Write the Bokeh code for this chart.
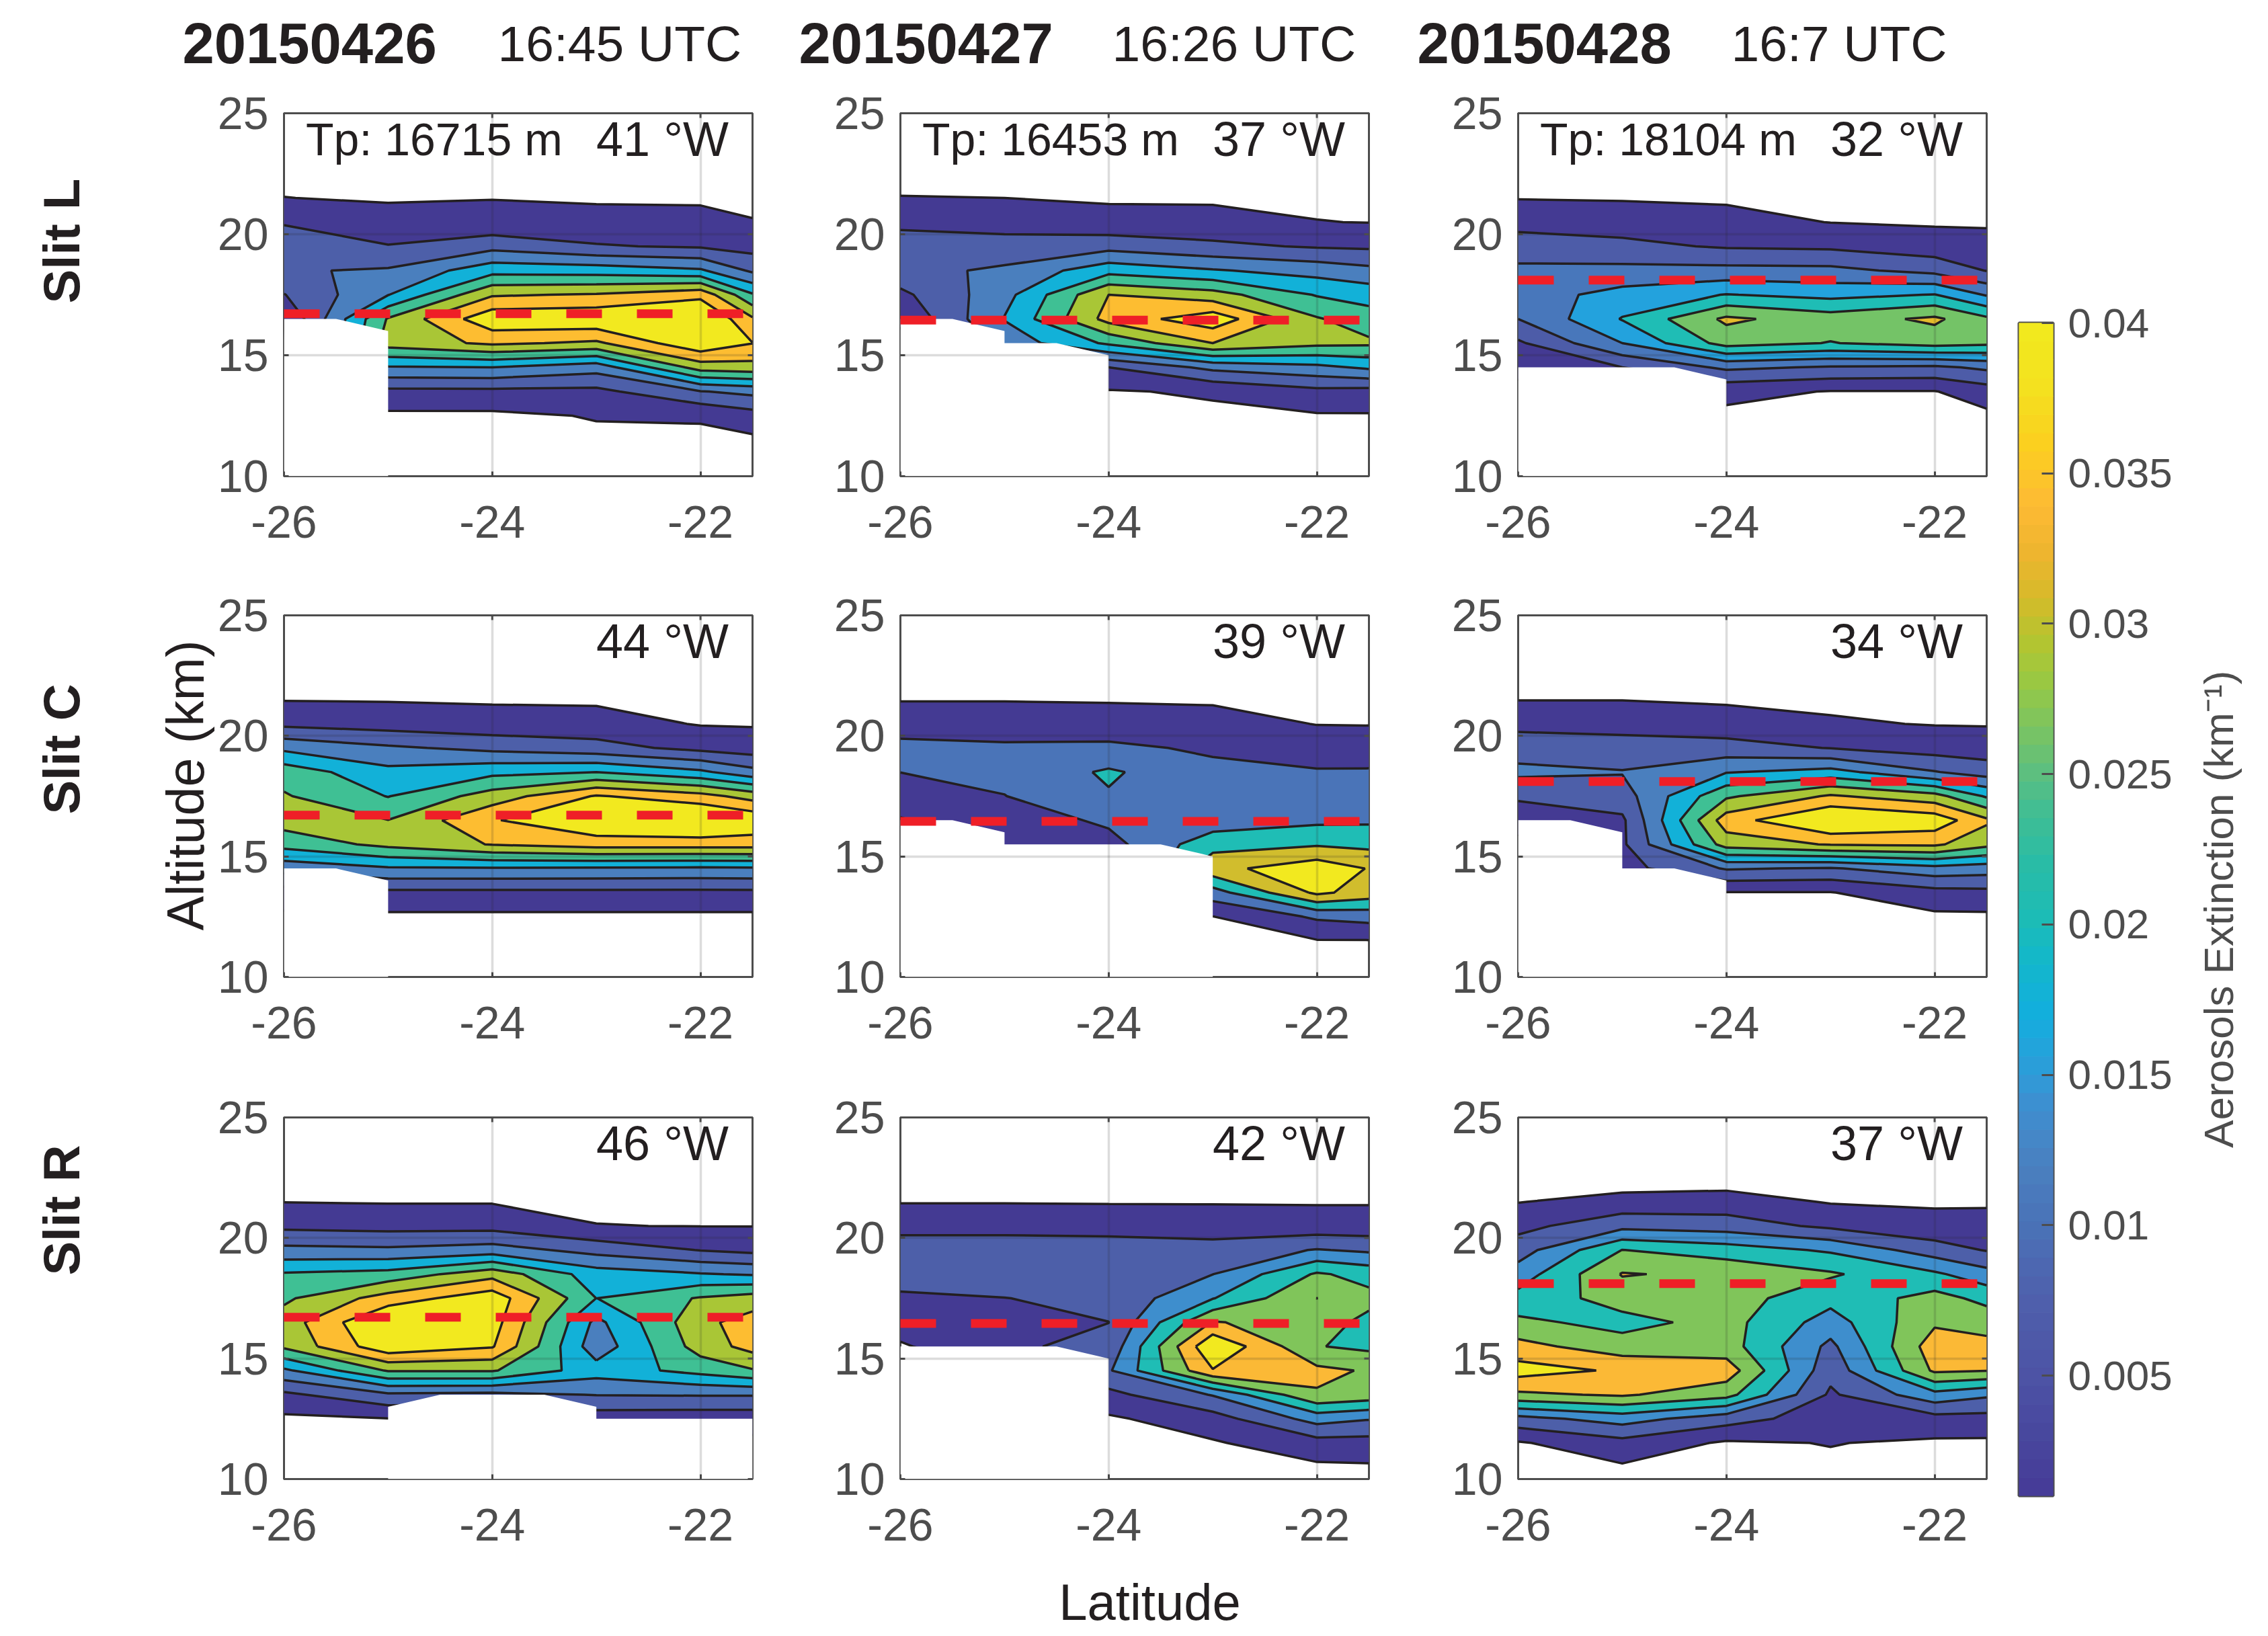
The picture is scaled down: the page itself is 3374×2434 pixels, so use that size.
import math
import numpy as np
from bokeh.core.properties import value
from bokeh.embed import file_html
from bokeh.layouts import column, row
from bokeh.models import FixedTicker, Range1d
from bokeh.plotting import figure
from bokeh.resources import INLINE

# ---- grid ---------------------------------------------------------------
LATS = [-26, -25, -24, -23, -22, -21.5]
ALTS = [22.5, 21.5, 20.5, 19.5, 18.5, 17.5, 16.5, 15.5, 14.5, 13.5, 12.5, 11.5, 10.5]

# ---- extinction (1e-3 km^-1), one list per latitude, one value per altitude
Z_L1 = [[0, 1.05, 6, 10, 11.5, 6.3, 1, .5, 0, 0, 0, 0, 0],
        [0, .6, 2.6, 6.8, 12.6, 17.3, 29, 31, 17, 5, 0, 0, 0],
        [0, .9, 2.2, 10.2, 21, 33.4, 43.5, 35, 17.5, 5.1, 0, 0, 0],
        [0, .3, 3, 6.9, 20.5, 34.5, 44, 33, 14.3, 5, 1.3, 0, 0],
        [0, .2, 2.8, 5.9, 18.3, 38, 46, 44, 31, 11.7, 1.5, 0, 0],
        [0, 0, 1.2, 4.5, 11, 23.6, 34.8, 39.6, 32, 13.5, 4.2, 0, 0]]
Z_L2 = [[0, 1.1, 5.3, 9, 10.2, 5.2, 1.5, 0, 0, 0, 0, 0, 0],
        [0, 1, 4.5, 8.5, 13, 15.5, 17.8, 14, 6, 2, 0, 0, 0],
        [0, .5, 2.5, 10, 21, 34, 36, 24, 6.5, .6, 0, 0, 0],
        [0, .2, 3, 7.6, 18, 30.8, 43, 34, 13.5, 1.6, 0, 0, 0],
        [0, .2, 1.1, 6, 15.4, 22.6, 29, 30, 16, 5, .5, 0, 0],
        [0, 0, .9, 5.6, 13.5, 20.8, 25.5, 29.5, 18.5, 4.5, .6, 0, 0]]
Z_L3 = [[0, .8, 4.2, 8.6, 12, 13.5, 11, 5.2, 2, 0, 0, 0, 0],
        [0, .6, 3.8, 7.2, 12.4, 17.8, 21.3, 16, 6, 2, 0, 0, 0],
        [0, .4, 2.5, 5.5, 12.5, 21.2, 32, 28, 12, 2.3, 0, 0, 0],
        [0, .2, .9, 5.1, 12.3, 19.5, 28.5, 25.8, 10.5, .8, 0, 0, 0],
        [0, .2, .5, 3.2, 9.5, 21.2, 32, 28, 10, .8, 0, 0, 0],
        [0, 0, .5, 2.5, 5.8, 15.5, 27, 27, 12, 3.5, 0, 0, 0]]
Z_C1 = [[0, .8, 5.2, 16.2, 26.3, 29, 31, 25, 14, 4, 0, 0, 0],
        [0, .7, 4, 12.9, 19, 22.8, 28.6, 30, 16.8, 5.2, 0, 0, 0],
        [0, .5, 3, 10.5, 21.5, 31, 39, 34.3, 17, 5.2, 0, 0, 0],
        [0, .3, 3, 8.5, 23, 40, 45, 36.5, 16.8, 5.2, 0, 0, 0],
        [0, .2, .7, 4.9, 18.6, 36, 47, 36.5, 16.5, 5.2, 0, 0, 0],
        [0, 0, .6, 3.6, 13.8, 31.8, 44, 36.5, 16.8, 5.2, 0, 0, 0]]
Z_C2 = [[0, .6, 6.5, 13, 10.6, 4.5, .5, 0, 0, 0, 0, 0, 0],
        [0, .7, 5, 12.2, 13, 10.3, 5, 2, 0, 0, 0, 0, 0],
        [0, .4, 5, 12.5, 21.3, 19.2, 12.3, 7, 2, 0, 0, 0, 0],
        [0, .2, 3.7, 9, 13, 14, 14.5, 26, 36, 15.8, .8, 0, 0],
        [0, .2, .8, 5, 11.4, 14.5, 18, 28.5, 45, 41, 12, .5, 0],
        [0, 0, .7, 5, 11.5, 14, 18.5, 27, 38.5, 35, 14, .6, 0]]
Z_C3 = [[0, .9, 4.8, 9.8, 13.2, 7.5, 2.5, 0, 0, 0, 0, 0, 0],
        [0, .9, 4.8, 8.5, 12.3, 9.5, 5.5, 5.5, 4.5, 1, 0, 0, 0],
        [0, .4, 3.2, 8.7, 17.2, 27.6, 37, 31, 12.5, .8, 0, 0, 0],
        [0, .1, 1.5, 6.3, 19.5, 34.7, 46, 34.4, 11.5, .8, 0, 0, 0],
        [0, .1, .8, 4, 12.3, 30.5, 43, 35, 15.5, 4.5, 0, 0, 0],
        [0, 0, .7, 3.5, 9.5, 22.3, 35, 30, 14.6, 5, 0, 0, 0]]
Z_R1 = [[0, .9, 5.2, 13.5, 23.6, 27.5, 31, 29.5, 16.4, 5.3, 0, 0, 0],
        [0, .7, 4.6, 13, 25, 36.5, 46, 43.5, 29, 11, .8, 0, 0],
        [0, .7, 4.5, 14.5, 32, 43, 42, 40, 29, 10.5, 1, 0, 0],
        [0, .1, 1.1, 10, 20.2, 22.95, 16, 14, 20, 12.2, 3.3, 0, 0],
        [0, .1, .9, 6.3, 17.9, 29, 32.5, 31, 24.9, 12.4, 3, 0, 0],
        [0, .1, .9, 5, 17, 31, 36.5, 36, 28, 12.4, 3, 0, 0]]
Z_R2 = [[0, .7, 5.3, 10.5, 9.6, 6.4, 3.8, .3, 0, 0, 0, 0, 0],
        [0, .7, 5.3, 10.5, 10.5, 7.2, 4.5, 6.3, 1, 0, 0, 0, 0],
        [0, .6, 5, 10.3, 10.5, 8.8, 7.25, 9, 12.8, 5.5, .1, 0, 0],
        [0, .6, 4.5, 9.5, 13.5, 19.6, 33, 44.6, 38.4, 14, 4.5, .4, 0],
        [0, .6, 3.5, 14, 27, 32.55, 29, 26.5, 34, 31.9, 16.1, 4.8, 0],
        [0, .6, 3.5, 12.5, 24, 28, 24.5, 24.8, 31.9, 30, 14, 4.8, .3]]
Z_R3 = [[0, .8, 5.4, 10.7, 16.5, 22, 27.7, 34.6, 41.5, 31.2, 11.4, .4, 0],
        [-2.5, 3.2, 11.6, 26.3, 32.9, 29, 24, 29, 37.9, 33.3, 16.3, 5.1, .3],
        [-2, 3.6, 10.5, 23, 31.2, 29, 28.5, 29, 36, 28.5, 10, .2, 0],
        [0, .6, 6, 19, 27, 22, 17, 12, 9.2, 6.3, 4, 1.2, 0],
        [0, .3, 2.8, 10.3, 21, 28.5, 31.5, 36, 33.6, 17.8, 4.9, .1, 0],
        [0, .2, 3.3, 6.9, 16, 24.4, 29.9, 34.5, 32.7, 14.7, 5, 0, 0]]

# ---- contour levels and band colours -------------------------------------
LEVELS_8 = [1, 6.5, 12, 17.5, 23, 28.5, 34, 39.5, 70]
COLORS_8 = ["#443a93", "#4d5fa9", "#4a7fbe", "#12b1d8", "#3fc094", "#a9c636", "#fdbd31", "#f2e91f"]
LEVELS_L3 = [1, 6, 11, 16, 21, 26, 31, 70]
COLORS_L3 = ["#443a93", "#4d5ca8", "#4877bb", "#23a2dd", "#1fbdb5", "#74c367", "#e5bb2c"]
LEVELS_R = [1, 7.3, 13.6, 19.9, 26.2, 32.5, 38.8, 70]
COLORS_R = ["#443a93", "#4d5fa9", "#3e8ecd", "#1fbdb5", "#80c55a", "#fbb936", "#f2e91f"]
LEVELS_C2 = [1, 10.5, 20, 29.5, 39, 70]
COLORS_C2 = ["#443a93", "#4a74b8", "#1fbdb5", "#d1bd2d", "#f2e91f"]

# ---- altitude below which there is no retrieval ---------------------------
MASK_L1 = ([-26, -25.5, -25, -25, -26], [16.5, 16.5, 16, 10, 10])
MASK_L2 = ([-26, -25.5, -25, -25, -24.5, -24, -24, -26], [16.5, 16.5, 16, 15.5, 15.5, 15, 10, 10])
MASK_L3 = ([-26, -24.5, -24, -24, -26], [14.5, 14.5, 14, 10, 10])
MASK_C1 = ([-26, -25.5, -25, -25, -26], [14.5, 14.5, 14, 10, 10])
MASK_C2 = ([-26, -25.5, -25, -25, -23.5, -23, -23, -26], [16.5, 16.5, 16, 15.5, 15.5, 15, 10, 10])
MASK_C3 = ([-26, -25.5, -25, -25, -24.5, -24, -24, -26], [16.5, 16.5, 16, 14.5, 14.5, 14, 10, 10])
MASK_R1 = ([-25, -25, -24.5, -23.5, -23, -23, -21.5, -21.5], [10, 13, 13.5, 13.5, 13, 12.5, 12.5, 10])
MASK_R2 = ([-26, -24.5, -24, -24, -26], [15.5, 15.5, 15, 10, 10])
MASK_R3 = ([], [])

# ---- labels ---------------------------------------------------------------
DATES = ["20150426", "20150427", "20150428"]
TIMES = ["16:45 UTC", "16:26 UTC", "16:7 UTC"]
TROPOPAUSE_KM = [16.715, 16.453, 18.104]
TROPOPAUSE_TEXT = ["Tp: 16715 m", "Tp: 16453 m", "Tp: 18104 m"]
SLITS = ["Slit L", "Slit C", "Slit R"]
LONGITUDES = [["41", "37", "32"], ["44", "39", "34"], ["46", "42", "37"]]
FIELDS = [[Z_L1, Z_L2, Z_L3], [Z_C1, Z_C2, Z_C3], [Z_R1, Z_R2, Z_R3]]
MASKS = [[MASK_L1, MASK_L2, MASK_L3], [MASK_C1, MASK_C2, MASK_C3], [MASK_R1, MASK_R2, MASK_R3]]
BANDS = [[(LEVELS_8, COLORS_8), (LEVELS_8, COLORS_8), (LEVELS_L3, COLORS_L3)],
         [(LEVELS_8, COLORS_8), (LEVELS_C2, COLORS_C2), (LEVELS_8, COLORS_8)],
         [(LEVELS_8, COLORS_8), (LEVELS_R, COLORS_R), (LEVELS_R, COLORS_R)]]
X_TICKS = [-26, -24, -22]
Y_TICKS = [10, 15, 20, 25]
X_TICK_LABELS = ["-26", "-24", "-22"]

# ---- colour bar ------------------------------------------------------------
CB_TICKS = [5, 10, 15, 20, 25, 30, 35, 40]
CB_LABELS = ["0.005", "0.01", "0.015", "0.02", "0.025", "0.03", "0.035", "0.04"]
CB_STOP_VALUES = [1, 3, 5, 7.5, 10, 12, 14, 15, 17, 19, 20, 22, 24, 25, 26.5, 28, 29.5, 31, 32.5, 34, 36, 38, 40]
CB_STOP_COLORS = ["#463a97", "#48479e", "#4d53a5", "#4f5fac", "#4a72b7", "#4a80c0", "#3e8fd0", "#2f9bd8",
                  "#12aede", "#14b8c8", "#1bbcb8", "#29bca6", "#45be90", "#5cbf80", "#7ac462", "#98c844",
                  "#b5c52f", "#d8b92a", "#f0b52f", "#fdbb34", "#fbd01f", "#f3e21f", "#f2ea1e"]

FONT = "Liberation Sans"
INK = "#231f20"
GREY = "#4d4d4d"
RED = "#ef1f27"
FRAME_W = 697
BORDER_LEFT = [102, 214, 216]
BORDER_RIGHT = [6, 6, 10]
BORDER_TOP = [50, 50, 50]
BORDER_BOTTOM = [157, 159, 130]
FRAME_H = [540, 538, 538]
HEADER_H = 118
STRIP_W = 320
FOOTER_H = 100
MAIN_W = 2645 + STRIP_W
TOTAL_H = 2430


def panel(r, c):
    p = figure(width=BORDER_LEFT[c] + FRAME_W + BORDER_RIGHT[c],
               height=BORDER_TOP[r] + FRAME_H[r] + BORDER_BOTTOM[r],
               x_range=Range1d(-26, -21.5), y_range=Range1d(10, 25),
               output_backend="svg", toolbar_location=None,
               min_border_left=BORDER_LEFT[c], min_border_right=BORDER_RIGHT[c],
               min_border_top=BORDER_TOP[r], min_border_bottom=BORDER_BOTTOM[r])
    p.outline_line_color = GREY
    p.outline_line_width = 3
    p.background_fill_color = "white"
    for ax, ticks, standoff in ((p.xaxis[0], X_TICKS, 44), (p.yaxis[0], Y_TICKS, 23)):
        ax.ticker = FixedTicker(ticks=ticks)
        ax.axis_line_color = None
        ax.major_tick_in = 7
        ax.major_tick_out = 0
        ax.major_tick_line_color = GREY
        ax.major_tick_line_width = 3
        ax.minor_tick_line_color = None
        ax.major_label_text_font = FONT
        ax.major_label_text_font_size = "68px"
        ax.major_label_text_color = GREY
        ax.major_label_standoff = standoff
    p.xaxis[0].major_label_overrides = dict(zip(X_TICKS, X_TICK_LABELS))
    for g in p.grid:
        g.level = "guide"
        g.grid_line_color = "#262626"
        g.grid_line_alpha = 0.16
        g.grid_line_width = 3.5
    p.xgrid.ticker = FixedTicker(ticks=X_TICKS)
    p.ygrid.ticker = FixedTicker(ticks=Y_TICKS)

    z = np.array(FIELDS[r][c], dtype=float).T[::-1]
    levels, colors = BANDS[r][c]
    p.contour(LATS, ALTS[::-1], z, levels=levels, fill_color=colors,
              line_color=INK, line_width=3.5)
    lat, alt = MASKS[r][c]
    if lat:
        p.patch(lat, alt, fill_color="white", line_color=None)
    # box ticks along the top and right edges
    p.segment(X_TICKS, [25] * 3, X_TICKS, [25 - 7 / 36] * 3, line_color=GREY, line_width=3, level="annotation")
    p.segment([-21.5] * 4, Y_TICKS, [-21.5 - 7 / 155] * 4, Y_TICKS, line_color=GREY, line_width=3, level="annotation")
    p.line([-26, -21.5], [TROPOPAUSE_KM[c]] * 2, line_color=RED, line_width=13,
           line_dash=[53, 52], line_cap="butt", level="annotation")
    p.text([-21.73], [23.92], [f"{LONGITUDES[r][c]} °W"], text_font=value(FONT), text_color=INK,
           text_font_size="72px", text_align="right", text_baseline="middle", level="annotation")
    if r == 0:
        p.text([-25.79], [23.92], [TROPOPAUSE_TEXT[c]], text_font=value(FONT), text_color=INK,
               text_font_size="68px", text_align="left", text_baseline="middle", level="annotation")
    return p


def strip(width, height):
    s = figure(width=width, height=height, x_range=Range1d(0, width), y_range=Range1d(height, 0),
               output_backend="svg", toolbar_location=None, x_axis_location=None, y_axis_location=None,
               min_border=0, outline_line_color=None)
    s.grid.visible = False
    return s


def put(s, x, y, t, size, **kw):
    opts = dict(text_font=value(FONT), text_color=INK, text_font_size=f"{size}px",
                text_align="left", text_baseline="middle")
    opts.update(kw)
    s.text([x], [y], [t], **opts)


# header with dates and times
header = strip(MAIN_W, HEADER_H)
for date, time_, dx, tx in zip(DATES, TIMES, [271, 1188, 2108], [740, 1654, 2575]):
    put(header, dx, 64, date, 85, text_font_style="bold")
    put(header, tx, 64, time_, 75)

# strip to the left of the panels
body_h = TOTAL_H - HEADER_H - FOOTER_H
left_strip = strip(STRIP_W, body_h)
for name, yc in zip(SLITS, [358, 1114, 1800]):
    put(left_strip, 91, yc - HEADER_H, name, 76, text_font_style="bold", angle=math.pi / 2,
        text_align="center")
put(left_strip, 275, 1168 - HEADER_H, "Altitude (km)", 77, angle=math.pi / 2, text_align="center")

# footer
footer = strip(MAIN_W, FOOTER_H)
put(footer, 1710, 53, "Latitude", 76, text_align="center")

grid_rows = [row(*[panel(r, c) for c in range(3)], spacing=0) for r in range(3)]
main = column(header, row(left_strip, column(*grid_rows, spacing=0), spacing=0), footer, spacing=0)

# colour bar
cb = figure(width=38 + 51 + 200, height=480 + 1745 + 205,
            x_range=Range1d(0, 1), y_range=Range1d(1, 40),
            output_backend="svg", toolbar_location=None, y_axis_location="right",
            min_border_left=38, min_border_right=200, min_border_top=480, min_border_bottom=205)
cb.xaxis.visible = False
cb.grid.visible = False
cb.outline_line_color = GREY
cb.outline_line_width = 4
rgb = np.array([[int(h[i:i + 2], 16) for i in (1, 3, 5)] for h in CB_STOP_COLORS], dtype=float)
edges = np.linspace(1, 40, 65)
mids = (edges[:-1] + edges[1:]) / 2
band_colors = ["#%02x%02x%02x" % tuple(int(round(np.interp(m, CB_STOP_VALUES, rgb[:, k]))) for k in range(3))
               for m in mids]
cb.quad(left=0, right=1, bottom=edges[:-1], top=edges[1:], fill_color=band_colors, line_color=band_colors)
ya = cb.yaxis[0]
ya.ticker = FixedTicker(ticks=CB_TICKS)
ya.major_label_overrides = dict(zip(CB_TICKS, CB_LABELS))
ya.axis_line_color = None
ya.major_tick_in = 17
ya.major_tick_out = 0
ya.major_tick_line_color = GREY
ya.major_tick_line_width = 3
ya.minor_tick_line_color = None
ya.major_label_text_font = FONT
ya.major_label_text_font_size = "62px"
ya.major_label_text_color = GREY
ya.major_label_standoff = 22

cb_strip = strip(112, TOTAL_H)
put(cb_strip, 46, 1709, "Aerosols Extinction (km⁻¹)", 62, text_color=GREY, angle=math.pi / 2,
    text_align="left")

page = row(main, cb, cb_strip, spacing=0)
open("out.html", "w").write(file_html(page, INLINE))
